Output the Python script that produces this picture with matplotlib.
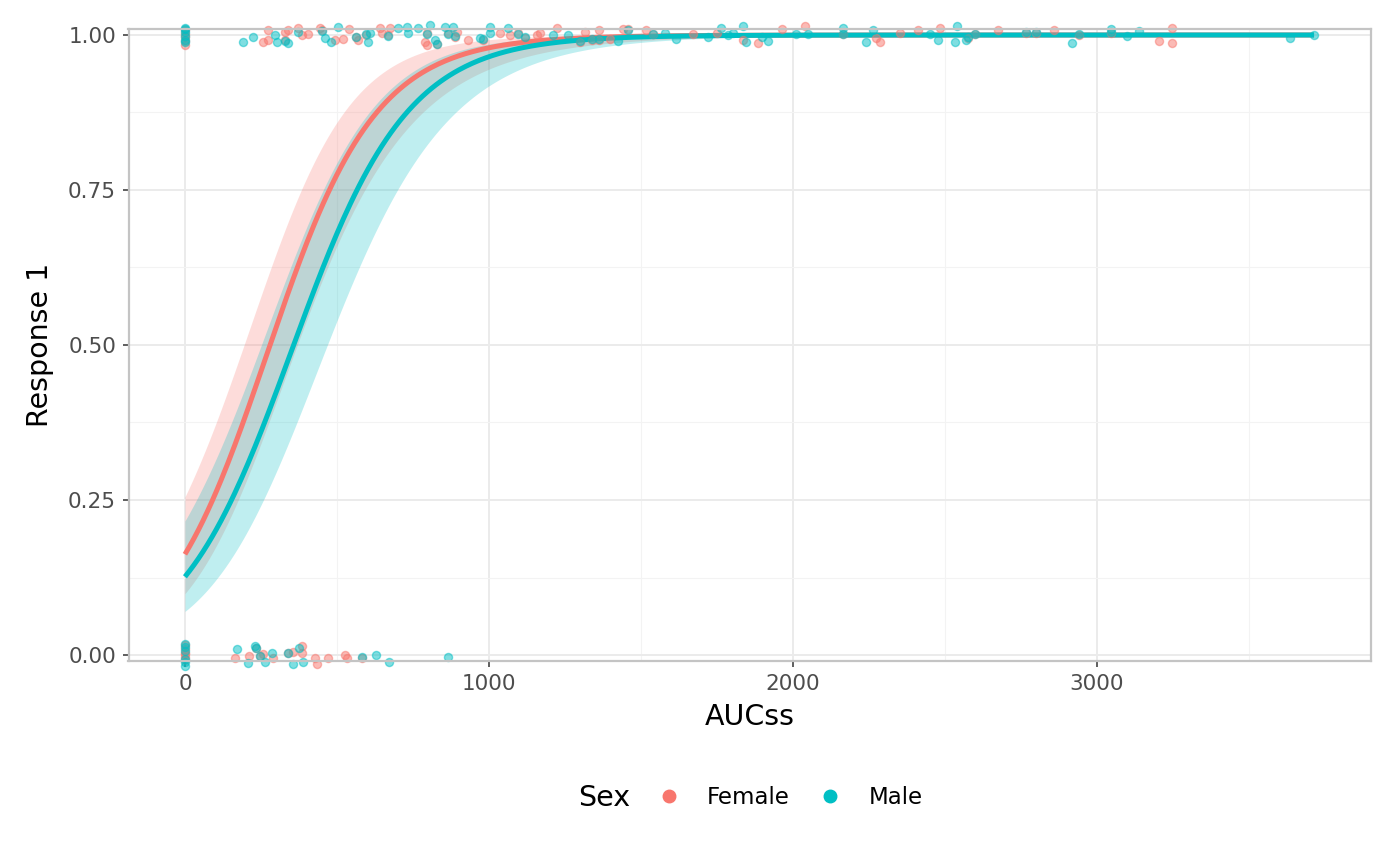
import numpy as np
import matplotlib
matplotlib.use("Agg")
import matplotlib.pyplot as plt
from matplotlib.lines import Line2D

# ---------------- data ----------------
sexes = ["Female", "Male"]
colors = {"Female": "#F8766D", "Male": "#00BFC4"}

# observed responses = 1 (AUCss, vertical jitter)
female_resp1_x = [0, 0, 0, 0, 0, 258, 274, 274, 329, 329, 340, 373, 384, 405, 444, 450,
                  493, 519, 541, 563, 570, 597, 641, 647, 669, 674, 795, 789, 795, 828,
                  866, 894, 888, 932, 981, 1036, 1069, 1096, 1118, 1157, 1168, 1223,
                  1299, 1316, 1338, 1363, 1363, 1398, 1442, 1458, 1516, 1540, 1672, 1749,
                  1836, 1886, 1963, 2039, 2166, 2275, 2286, 2352, 2412, 2484, 2576, 2599,
                  2675, 2768, 2799, 2859, 2942, 3048, 3205, 3248, 3248]
female_resp1_jit = [0.008, -0.004, -0.016, 0.002, -0.010, -0.011, -0.008, 0.008, -0.008, 0.005,
                    0.008, 0.011, 0.000, 0.001, 0.011, 0.008, -0.008, -0.006, 0.010, -0.004,
                    -0.008, 0.000, 0.011, 0.003, 0.000, 0.011, 0.003, -0.011, -0.016, -0.015,
                    0.003, 0.005, -0.003, -0.008, -0.008, 0.003, 0.000, 0.003, -0.005, 0.000,
                    0.003, 0.011, -0.011, 0.005, -0.008, 0.008, -0.008, -0.006, 0.009, 0.009,
                    0.008, 0.001, 0.001, 0.004, -0.008, -0.013, 0.009, 0.014, 0.001, -0.005,
                    -0.011, 0.004, 0.008, 0.012, -0.005, 0.001, 0.008, 0.004, 0.004, 0.008,
                    0.000, 0.004, -0.009, 0.012, -0.013]
male_resp1_x = [0, 0, 0, 0, 0, 0, 192, 225, 296, 302, 329, 340, 373, 450, 461, 482, 504, 563,
                597, 603, 608, 669, 702, 729, 735, 767, 795, 806, 822, 828, 855, 866, 883,
                888, 970, 981, 1003, 1003, 1063, 1096, 1118, 1212, 1261, 1299, 1338, 1363,
                1425, 1458, 1540, 1579, 1617, 1722, 1765, 1787, 1804, 1836, 1847, 1897,
                1919, 2012, 2050, 2166, 2166, 2242, 2264, 2451, 2478, 2539, 2533, 2571,
                2576, 2599, 2768, 2799, 2917, 2942, 3048, 3048, 3098, 3139, 3635, 3715]
male_resp1_jit = [0.012, 0.005, -0.002, -0.008, 0.010, -0.012, -0.012, -0.003, 0.000, -0.011,
                  -0.009, -0.013, 0.005, 0.007, -0.005, -0.011, 0.013, -0.003, 0.001, -0.011,
                  0.003, -0.001, 0.012, 0.013, 0.003, 0.012, 0.002, 0.016, -0.008, -0.014,
                  0.013, 0.002, 0.013, -0.002, -0.005, -0.007, 0.013, 0.003, 0.011, 0.002,
                  -0.004, 0.000, 0.000, -0.010, -0.007, -0.007, -0.009, 0.008, 0.002, 0.003,
                  -0.006, -0.004, 0.012, 0.000, 0.004, 0.014, -0.012, -0.004, -0.009, 0.001,
                  0.001, 0.011, 0.002, -0.011, 0.008, 0.001, -0.008, 0.014, -0.012, -0.008,
                  -0.004, 0.002, 0.005, 0.005, -0.013, 0.001, 0.009, 0.005, -0.001, 0.006,
                  -0.005, 0.000]

# observed responses = 0
female_resp0_x = [0, 0, 0, 0, 0, 0, 164, 212, 234, 247, 258, 290, 340, 354, 384, 384, 428,
                  436, 472, 526, 532, 581]
female_resp0_jit = [0.010, 0.004, -0.003, 0.016, -0.008, 0.001, -0.005, -0.002, 0.011, -0.002,
                    0.002, -0.005, 0.003, 0.005, 0.015, 0.003, -0.005, -0.015, -0.005, 0.000,
                    -0.005, -0.005]
male_resp0_x = [0, 0, 0, 0, 0, 0, 170, 206, 230, 234, 247, 263, 288, 340, 354, 376, 387, 581,
                628, 672, 866]
male_resp0_jit = [0.018, 0.013, -0.012, -0.018, 0.007, -0.006, 0.010, -0.013, 0.015, 0.012,
                  -0.001, -0.012, 0.003, 0.004, -0.015, 0.011, -0.011, -0.004, 0.000, -0.012,
                  -0.003]

# fitted logistic model (logit scale)
fit_b0 = {"Female": -1.64, "Male": -1.935}
fit_b1 = {"Female": 0.0060, "Male": 0.0055}
fit_b2 = {"Female": -0.5e-6, "Male": -0.25e-6}
# variance of linear predictor: v0 + 2*v1*x + v2*x^2
var_v0 = {"Female": 0.084, "Male": 0.109}
var_v1 = {"Female": -8.97e-5, "Male": -8.38e-5}
var_v2 = {"Female": 3.65e-7, "Male": 2.70e-7}
auc_max = 3715

xticks = [0, 1000, 2000, 3000]
yticks = [0.0, 0.25, 0.5, 0.75, 1.0]
ytick_labels = ["0.00", "0.25", "0.50", "0.75", "1.00"]

# ---------------- figure ----------------
W, H = 1400, 865
fig = plt.figure(figsize=(W / 100, H / 100), dpi=100)
fig.patch.set_facecolor("white")
left_px, right_px, top_px, bot_px = 128.5, 1370.5, 28.8, 661.2
ax = fig.add_axes([left_px / W, 1 - bot_px / H, (right_px - left_px) / W, (bot_px - top_px) / H])
ax.set_xlim(-185.75, 3900.75)
ax.set_ylim(-0.01, 1.01)

ax.set_axisbelow(True)
ax.set_xticks(xticks)
ax.set_yticks(yticks)
ax.set_yticklabels(ytick_labels)
ax.set_xticks([500, 1500, 2500, 3500], minor=True)
ax.set_yticks([0.125, 0.375, 0.625, 0.875], minor=True)
ax.grid(which="major", color="#EBEBEB", linewidth=1.4)
ax.grid(which="minor", color="#F3F3F3", linewidth=0.8)
ax.tick_params(which="minor", length=0)
ax.tick_params(which="major", length=4.5, width=1.1, color="#333333",
               labelcolor="#4D4D4D", labelsize=15.5)
ax.tick_params(axis="y", pad=4.5)
ax.tick_params(axis="x", pad=5)
for s in ax.spines.values():
    s.set_color("#C4C4C4")
    s.set_linewidth(1.6)
    s.set_zorder(5)

xs = np.linspace(0, auc_max, 500)
for sex in sexes:
    eta = fit_b0[sex] + fit_b1[sex] * xs + fit_b2[sex] * xs ** 2
    se = np.sqrt(var_v0[sex] + 2 * var_v1[sex] * xs + var_v2[sex] * xs ** 2)
    lo = 1 / (1 + np.exp(-(eta - 1.96 * se)))
    hi = 1 / (1 + np.exp(-(eta + 1.96 * se)))
    ax.fill_between(xs, lo, hi, color=colors[sex], alpha=0.25, linewidth=0, zorder=2)
for sex in sexes:
    eta = fit_b0[sex] + fit_b1[sex] * xs + fit_b2[sex] * xs ** 2
    ax.plot(xs, 1 / (1 + np.exp(-eta)), color=colors[sex], linewidth=3.6,
            solid_capstyle="butt", zorder=3)

pts = {
    "Female": (female_resp1_x + female_resp0_x,
               [1 + j for j in female_resp1_jit] + [0 + j for j in female_resp0_jit]),
    "Male": (male_resp1_x + male_resp0_x,
             [1 + j for j in male_resp1_jit] + [0 + j for j in male_resp0_jit]),
}
for sex in sexes:
    px, py = pts[sex]
    ax.scatter(px, py, s=34, color=colors[sex], alpha=0.5, edgecolors=colors[sex],
               linewidths=1.0, zorder=4, clip_on=False)

ax.set_xlabel("AUCss", fontsize=20.5, color="black")
ax.set_ylabel("Response 1", fontsize=20.5, color="black")
ax.xaxis.set_label_coords((750 - left_px) / (right_px - left_px), -(717 - bot_px) / (bot_px - top_px))
ax.xaxis.label.set_va("center")
ax.yaxis.set_label_coords(-(left_px - 40) / (right_px - left_px), 0.5)
ax.yaxis.label.set_va("center")

# legend
fig.text(604 / W, 1 - 798 / H, "Sex", fontsize=20.5, ha="center", va="center")
handles = [Line2D([], [], linestyle="none", marker="o", markersize=9,
                  markerfacecolor=colors[s], markeredgecolor=colors[s]) for s in sexes]
fig.legend(handles, sexes, loc="center left", bbox_to_anchor=(657.3 / W, 1 - 798 / H),
           ncol=2, frameon=False, fontsize=16.5, handlelength=1.0, handletextpad=1.16,
           columnspacing=1.27, borderpad=0, borderaxespad=0)

fig.savefig("out.png", dpi=100, facecolor="white")
